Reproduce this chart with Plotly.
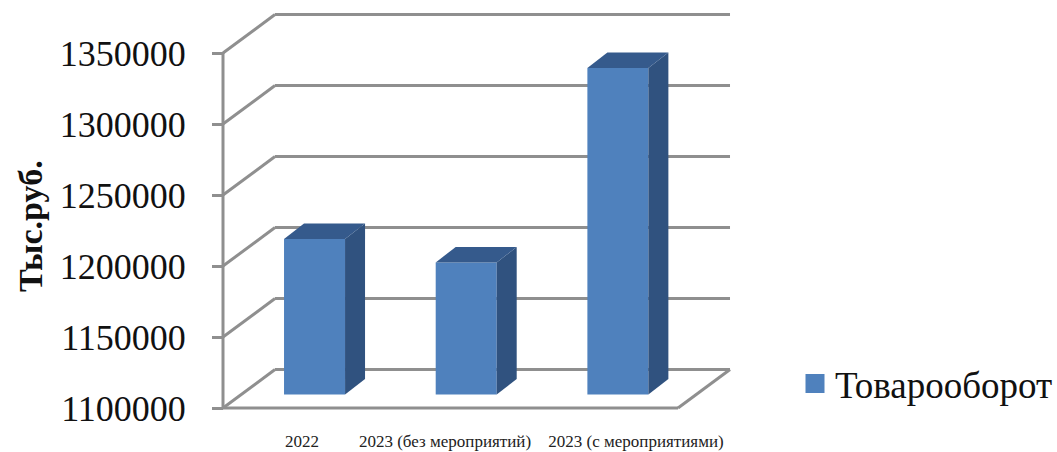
import plotly.graph_objects as go

categories = ["2022", "2023 (без мероприятий)", "2023 (с мероприятиями)"]
series_name = "Товарооборот"
values = [1209500, 1193000, 1330000]
tick_values = [1100000, 1150000, 1200000, 1250000, 1300000, 1350000]
y_title = "Тыс.руб."
label_pos = [0.021, 0.964, 2.223]

# pixel geometry of the oblique projection (plot area fills the whole page)
W, H = 1057, 452
AXIS_X, FLOOR_Y, LABEL_AXIS_Y = 223, 408, 420
PX_PER_CAT = 151.67
PX_PER_UNIT = 71.0 / 50000
BASE = tick_values[0]
TOP = tick_values[-1]

WALL_DX = 52 / PX_PER_CAT
WALL_DY = 38.5 / PX_PER_UNIT
BAR_W = 61 / PX_PER_CAT
BAR_SHIFT_X = 15.7 / PX_PER_CAT
BAR_SHIFT_Y = 13.5 / PX_PER_UNIT
BAR_DX = 20 / PX_PER_CAT
BAR_DY = 15.5 / PX_PER_UNIT
x0, x1 = -0.5, 2.5
LINE_END = x1 + WALL_DX

fig = go.Figure()

xs = [i + BAR_SHIFT_X for i in range(len(categories))]

fig.add_trace(go.Bar(
    x=xs, y=[v - BASE for v in values], base=[BASE + BAR_SHIFT_Y] * len(values),
    width=BAR_W, marker=dict(color="#4f81bd", line=dict(width=0)),
    showlegend=False, hoverinfo="skip",
))

for x, v in zip(xs, values):
    a, b = x - BAR_W / 2, x + BAR_W / 2
    t = v + BAR_SHIFT_Y
    g = BASE + BAR_SHIFT_Y
    fig.add_trace(go.Scatter(
        x=[b, b + BAR_DX, b + BAR_DX, b, b],
        y=[g, g + BAR_DY, t + BAR_DY, t, g],
        mode="lines", fill="toself", fillcolor="#30527f", line=dict(width=0),
        showlegend=False, hoverinfo="skip"))
    fig.add_trace(go.Scatter(
        x=[a, b, b + BAR_DX, a + BAR_DX, a],
        y=[t, t, t + BAR_DY, t + BAR_DY, t],
        mode="lines", fill="toself", fillcolor="#355a8c", line=dict(width=0),
        showlegend=False, hoverinfo="skip"))

# legend entry
fig.add_trace(go.Scatter(
    x=[None], y=[None], name=series_name, mode="markers",
    marker=dict(symbol="square", size=15, color="#4f81bd",
                line=dict(color="#4f81bd", width=4)),
    hoverinfo="skip"))

GRID = dict(color="#8f8f8f", width=3)
shapes = []


def seg(xa, ya, xb, yb):
    shapes.append(dict(type="line", layer="below", xref="x", yref="y",
                       x0=xa, y0=ya, x1=xb, y1=yb, line=GRID))


for tv in tick_values:
    seg(x0, tv, x0 + WALL_DX, tv + WALL_DY)
    seg(x0 + WALL_DX, tv + WALL_DY, LINE_END, tv + WALL_DY)
seg(x0, BASE, x0, TOP)
seg(x0, BASE, x1, BASE)
seg(x1, BASE, x1 + WALL_DX, BASE + WALL_DY)

fig.update_layout(
    width=W, height=H,
    margin=dict(l=0, r=0, t=0, b=0, pad=0, autoexpand=False),
    paper_bgcolor="white", plot_bgcolor="white",
    font=dict(family="Liberation Serif", color="#111111"),
    shapes=shapes,
    xaxis=dict(range=[x0 - AXIS_X / PX_PER_CAT, x0 + (W - AXIS_X) / PX_PER_CAT],
               anchor="free", position=1 - LABEL_AXIS_Y / H,
               tickmode="array", tickvals=label_pos, ticktext=categories,
               showgrid=False, zeroline=False, showline=False, ticks="outside",
               ticklen=6, tickcolor="rgba(0,0,0,0)",
               tickfont=dict(size=17, color="#222222")),
    yaxis=dict(range=[BASE - (H - FLOOR_Y) / PX_PER_UNIT,
                      BASE + FLOOR_Y / PX_PER_UNIT],
               anchor="free", position=AXIS_X / W,
               tickmode="array", tickvals=tick_values,
               ticktext=[str(v) for v in tick_values],
               showgrid=False, zeroline=False, showline=False, ticks="outside",
               ticklen=11, tickwidth=3, tickcolor="#8f8f8f",
               ticklabelstandoff=19,
               tickfont=dict(size=36, color="#111111")),
    legend=dict(x=795 / W, y=1 - 384 / H, xanchor="left", yanchor="middle",
                font=dict(size=37, color="#111111"), bgcolor="rgba(0,0,0,0)"),
    annotations=[dict(text=f"<b>{y_title}</b>", xref="paper", yref="paper",
                      x=30 / W, y=1 - 226 / H,
                      xanchor="center", yanchor="middle", textangle=-90,
                      showarrow=False, font=dict(size=34, color="#111111"))],
    showlegend=True,
)
fig.write_html("out.html", config={"displayModeBar": False},
               post_script="document.body.style.margin='0';")
